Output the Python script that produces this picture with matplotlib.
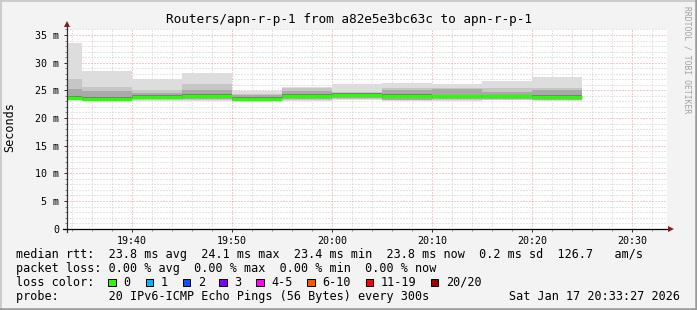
import matplotlib
matplotlib.use('Agg')
import matplotlib.pyplot as plt
from matplotlib.patches import Rectangle
from matplotlib.lines import Line2D

# 5-minute rrd steps, minutes after 19:00
block_start = [30, 35, 40, 45, 50, 55, 60, 65, 70, 75, 80]
median_ms = [23.55, 23.45, 23.8, 23.95, 23.4, 23.95, 24.1, 23.9, 23.9, 23.9, 23.8]

# smoke bands (ms), outer -> inner
smoke_min = [23.1, 23.0, 23.1, 23.1, 22.9, 23.1, 23.2, 23.1, 23.1, 23.2, 23.1]
smoke_max = [33.6, 28.5, 27.1, 28.1, 24.8, 25.6, 26.1, 26.4, 26.2, 26.6, 27.5]
band2_lo = [23.2, 23.1, 23.2, 23.2, 23.0, 23.2, 23.4, 23.2, 23.3, 23.3, 23.2]
band2_hi = [27.1, 25.6, 25.0, 26.2, 24.4, 25.5, 24.7, 25.4, 25.4, 25.4, 25.4]
band3_lo = [23.3, 23.2, 23.4, 23.4, 23.1, 23.4, 23.6, 23.3, 23.4, 23.5, 23.3]
band3_hi = [25.2, 24.9, 24.5, 25.1, 24.1, 24.9, 24.6, 25.1, 25.2, 24.7, 25.0]
band4_lo = [23.4, 23.3, 23.6, 23.7, 23.2, 23.7, 23.9, 23.6, 23.7, 23.7, 23.6]
band4_hi = [24.0, 23.85, 24.1, 24.3, 23.75, 24.25, 24.45, 24.25, 24.2, 24.2, 24.15]

y_ticks = [0, 5, 10, 15, 20, 25, 30, 35]
y_labels = ['0', '5 m', '10 m', '15 m', '20 m', '25 m', '30 m', '35 m']
x_ticks = [40, 50, 60, 70, 80, 90]
x_labels = ['19:40', '19:50', '20:00', '20:10', '20:20', '20:30']

loss_labels = ['0', '1', '2', '3', '4-5', '6-10', '11-19', '20/20']
loss_colors = ['#26ff00', '#00b8ff', '#0059ff', '#7e00ff', '#ff00ff', '#ff5500', '#ff0000', '#a10000']
loss_box_x = [108.3, 145.7, 182.7, 219.3, 256.3, 307.3, 365.7, 430.7]

W, H = 697, 310
MONO = 'DejaVu Sans Mono'

fig = plt.figure(figsize=(W / 100, H / 100), dpi=100, facecolor='#f3f3f3')
ax = fig.add_axes([67 / W, 1 - 228.7 / H, 600 / W, 200 / H])
ax.set_facecolor('white')

# grid
for m in range(34, 94, 2):
    if m % 10 == 0:
        continue
    ax.axvline(m, color='#cccccc', lw=0.72, ls=(0, (1, 2)), zorder=0)
for v in range(1, 37):
    if v % 5 == 0:
        continue
    ax.axhline(v, color='#cccccc', lw=0.72, ls=(0, (1, 2)), zorder=0)
for m in x_ticks:
    ax.axvline(m, color='#eb9a9a', lw=0.72, ls=(0, (1, 2)), zorder=0.5)
for v in y_ticks[1:]:
    ax.axhline(v, color='#eb9a9a', lw=0.72, ls=(0, (1, 2)), zorder=0.5)

# smoke
def band(lo, hi, color):
    ax.bar(block_start, [h - l for l, h in zip(lo, hi)], bottom=lo, width=5,
           align='edge', color=color, linewidth=0, zorder=2)

band(smoke_min, smoke_max, '#dddddd')
band(band2_lo, band2_hi, '#c6c6c6')
band(band3_lo, band3_hi, '#a9a9a9')
band(band4_lo, band4_hi, '#7a7a7a')

ends = [s + 5 for s in block_start]
ax.hlines(median_ms, block_start, ends, colors='#26ff00', linewidth=2.3, zorder=3)

ax.set_xlim(33.5, 93.5)
ax.set_ylim(0, 36.14)
for s in ax.spines.values():
    s.set_visible(False)

ax.set_yticks(y_ticks)
ax.set_yticklabels(y_labels, family=MONO, fontsize=7.2)
ax.set_xticks(x_ticks)
ax.set_xticklabels(x_labels, family=MONO, fontsize=7.2)
ax.set_yticks(range(1, 37), minor=True)
ax.set_xticks(range(34, 94, 2), minor=True)
ax.tick_params(axis='both', which='major', length=2.5, width=0.72, color='#333333', pad=3)
ax.tick_params(axis='both', which='minor', length=1.5, width=0.72, color='#888888')
ax.tick_params(axis='x', which='major', pad=2.5)

# axis lines and dark red arrow heads
ax.add_line(Line2D([0, 0], [-0.015, 1.03], transform=ax.transAxes, color='#333333',
                   lw=0.9, clip_on=False, zorder=4))
ax.add_line(Line2D([-0.007, 1.005], [0, 0], transform=ax.transAxes, color='black',
                   lw=0.9, clip_on=False, zorder=4))
ax.plot([33.5], [37.0], marker='^', ms=4.5, mew=0, color='#8b1a1a', clip_on=False, zorder=5)
ax.plot([93.9], [0], marker='>', ms=4.5, mew=0, color='#8b1a1a', clip_on=False, zorder=5)

# texts
def px(x, y):
    return x / W, 1 - y / H

fig.text(*px(348.5, 19), 'Routers/apn-r-p-1 from a82e5e3bc63c to apn-r-p-1',
         family=MONO, fontsize=9.2, ha='center', va='center', color='black')
fig.text(*px(10, 127), 'Seconds', family=MONO, fontsize=8.5, rotation=90,
         ha='center', va='center')
fig.text(*px(687, 60), 'RRDTOOL / TOBI OETIKER', family=MONO, fontsize=5.8,
         rotation=-90, ha='center', va='center', color='#a0a0a0')

rows = [
    'median rtt:  23.8 ms avg  24.1 ms max  23.4 ms min  23.8 ms now  0.2 ms sd  126.7   am/s',
    'packet loss: 0.00 % avg  0.00 % max  0.00 % min  0.00 % now',
    'loss color:',
    'probe:       20 IPv6-ICMP Echo Pings (56 Bytes) every 300s',
]
row_y = [254.3, 268.3, 282.3, 296.3]
for r, y in zip(rows, row_y):
    fig.text(*px(16, y), r, family=MONO, fontsize=8.45, ha='left', va='center')
fig.text(*px(680, row_y[3]), 'Sat Jan 17 20:33:27 2026', family=MONO, fontsize=8.45,
         ha='right', va='center')

for bx, lab, col in zip(loss_box_x, loss_labels, loss_colors):
    fig.patches.append(Rectangle(px(bx, 286.3), 7.5 / W, 7.5 / H, facecolor=col,
                                 edgecolor='black', linewidth=0.72, transform=fig.transFigure))
    fig.text(*px(bx + 15, row_y[2]), lab, family=MONO, fontsize=8.45, ha='left', va='center')

# canvas shading border
fig.add_artist(Line2D([0, 1], [1 - 0.5 / H, 1 - 0.5 / H], color='#cbcbcb', lw=1.4))
fig.add_artist(Line2D([0.5 / W, 0.5 / W], [0, 1], color='#cbcbcb', lw=1.4))
fig.add_artist(Line2D([0, 1], [1 / H, 1 / H], color='#999999', lw=1.8))
fig.add_artist(Line2D([1 - 1 / W, 1 - 1 / W], [0, 1], color='#999999', lw=1.8))

fig.savefig('out.png', dpi=100, facecolor=fig.get_facecolor())
